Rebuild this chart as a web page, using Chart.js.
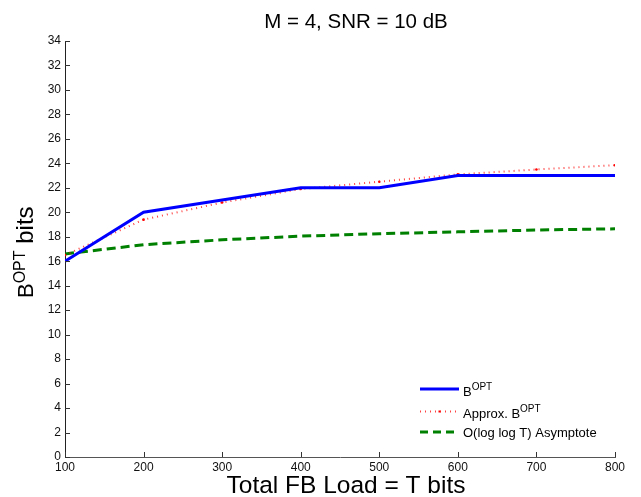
<!DOCTYPE html>
<html>
<head>
<meta charset="utf-8">
<script src="https://cdn.jsdelivr.net/npm/chart.js@4/dist/chart.umd.min.js"></script>
<style>
  html, body { margin: 0; padding: 0; background: #fff; }
  #wrap { width: 641px; height: 497px; position: relative; }
</style>
</head>
<body>
<div id="wrap"><canvas id="c" width="641" height="497"></canvas></div>
<script>
// datos
const loadT = [100, 200, 300, 400, 500, 600, 700, 800];
const bOpt = [16, 20, 21, 22, 22, 23, 23, 23];
const approxB = [16.5, 19.4, 20.8, 21.9, 22.5, 23.1, 23.5, 23.85];
const asymptote = [16.6, 17.35, 17.75, 18.05, 18.25, 18.4, 18.55, 18.65];
const yTicks = [0, 2, 4, 6, 8, 10, 12, 14, 16, 18, 20, 22, 24, 26, 28, 30, 32, 34];

const FONT = '"Liberation Sans", Arial, Helvetica, sans-serif';
const RED_DOT = 'rgba(255,0,0,0.75)';

// texto con superindice: partes [{t, size, up}]
function drawParts(ctx, parts, x, y) {
  let cx = x;
  parts.forEach(p => {
    ctx.font = p.size + 'px ' + FONT;
    ctx.fillText(p.t, cx, y - (p.up || 0));
    cx += ctx.measureText(p.t).width;
  });
  return cx;
}

const decor = {
  id: 'decor',
  afterDraw(chart) {
    const ctx = chart.ctx;
    const xs = chart.scales.x, ys = chart.scales.y;
    const a = chart.chartArea;
    ctx.save();
    ctx.fillStyle = '#000';
    ctx.textBaseline = 'alphabetic';

    // ticks hacia dentro (estilo matlab)
    ctx.strokeStyle = '#333';
    ctx.lineWidth = 1;
    yTicks.forEach(v => {
      const py = Math.round(ys.getPixelForValue(v)) + 0.5;
      ctx.beginPath(); ctx.moveTo(a.left, py); ctx.lineTo(a.left + 5, py); ctx.stroke();
    });
    loadT.forEach(v => {
      const px = Math.round(xs.getPixelForValue(v)) + 0.5;
      ctx.beginPath(); ctx.moveTo(px, a.bottom); ctx.lineTo(px, a.bottom - 5); ctx.stroke();
    });

    // titulo
    ctx.textAlign = 'center';
    ctx.font = '20.5px ' + FONT;
    ctx.fillText('M = 4, SNR = 10 dB', 356, 28);

    // titulo eje x
    ctx.font = '24.5px ' + FONT;
    ctx.fillText('Total FB Load = T bits', 346, 493);

    // titulo eje y (rotado)
    ctx.textAlign = 'left';
    const yParts = [{ t: 'B', size: 22 }, { t: 'OPT', size: 16, up: 8 }, { t: ' bits', size: 24 }];
    ctx.translate(33, 298);
    ctx.rotate(-Math.PI / 2);
    drawParts(ctx, yParts, 0, 0);
    ctx.setTransform(1, 0, 0, 1, 0, 0);

    // leyenda
    const lx0 = 420, lx1 = 459, tx = 463;
    const rows = [
      { y: 389, ty: 396, color: '#0000ff', width: 3, dash: [], parts: [{ t: 'B', size: 13 }, { t: 'OPT', size: 10, up: 6 }] },
      { y: 411.5, ty: 418, color: RED_DOT, width: 2, dash: [1, 4], dot: true, parts: [{ t: 'Approx. B', size: 13 }, { t: 'OPT', size: 10, up: 6 }] },
      { y: 432, ty: 437, color: '#008000', width: 3, dash: [8, 5], parts: [{ t: 'O(log log T) Asymptote', size: 13 }] }
    ];
    rows.forEach(r => {
      ctx.strokeStyle = r.color;
      ctx.lineWidth = r.width;
      ctx.setLineDash(r.dash);
      ctx.beginPath(); ctx.moveTo(lx0, r.y); ctx.lineTo(lx1, r.y); ctx.stroke();
      ctx.setLineDash([]);
      if (r.dot) {
        ctx.fillStyle = 'red';
        ctx.fillRect((lx0 + lx1) / 2 - 1, r.y - 1, 2, 2);
      }
      ctx.fillStyle = '#000';
      drawParts(ctx, r.parts, tx, r.ty);
    });
    ctx.restore();
  }
};

new Chart(document.getElementById('c').getContext('2d'), {
  type: 'line',
  data: {
    labels: loadT,
    datasets: [
      {
        label: 'B OPT',
        data: loadT.map((t, i) => ({ x: t, y: bOpt[i] })),
        borderColor: '#0000ff',
        borderWidth: 3,
        pointRadius: 0,
        tension: 0
      },
      {
        label: 'Approx. B OPT',
        data: loadT.map((t, i) => ({ x: t, y: approxB[i] })),
        borderColor: RED_DOT,
        borderWidth: 2,
        borderDash: [1, 4],
        pointRadius: 1.3,
        pointBackgroundColor: 'red',
        pointBorderWidth: 0,
        tension: 0
      },
      {
        label: 'O(log log T) Asymptote',
        data: loadT.map((t, i) => ({ x: t, y: asymptote[i] })),
        borderColor: '#008000',
        borderWidth: 3,
        borderDash: [9, 5],
        pointRadius: 0,
        tension: 0
      }
    ]
  },
  options: {
    responsive: false,
    animation: false,
    layout: { padding: { top: 41, right: 26, left: 0, bottom: 0 } },
    plugins: { legend: { display: false }, title: { display: false }, tooltip: { enabled: false } },
    scales: {
      x: {
        type: 'linear',
        min: 100, max: 800,
        afterBuildTicks: s => { s.ticks = loadT.map(v => ({ value: v })); },
        afterFit: s => { s.height = 40; },
        grid: { drawOnChartArea: false, drawTicks: false },
        border: { color: '#555', width: 1 },
        ticks: { color: '#111', font: { family: FONT, size: 12 }, padding: 3, maxRotation: 0 }
      },
      y: {
        min: 0, max: 34,
        afterBuildTicks: s => { s.ticks = yTicks.map(v => ({ value: v })); },
        afterFit: s => { s.width = 65; },
        grid: { drawOnChartArea: false, drawTicks: false },
        border: { color: '#222', width: 1 },
        ticks: { color: '#111', font: { family: FONT, size: 12 }, padding: 4 }
      }
    }
  },
  plugins: [decor]
});
</script>
</body>
</html>
